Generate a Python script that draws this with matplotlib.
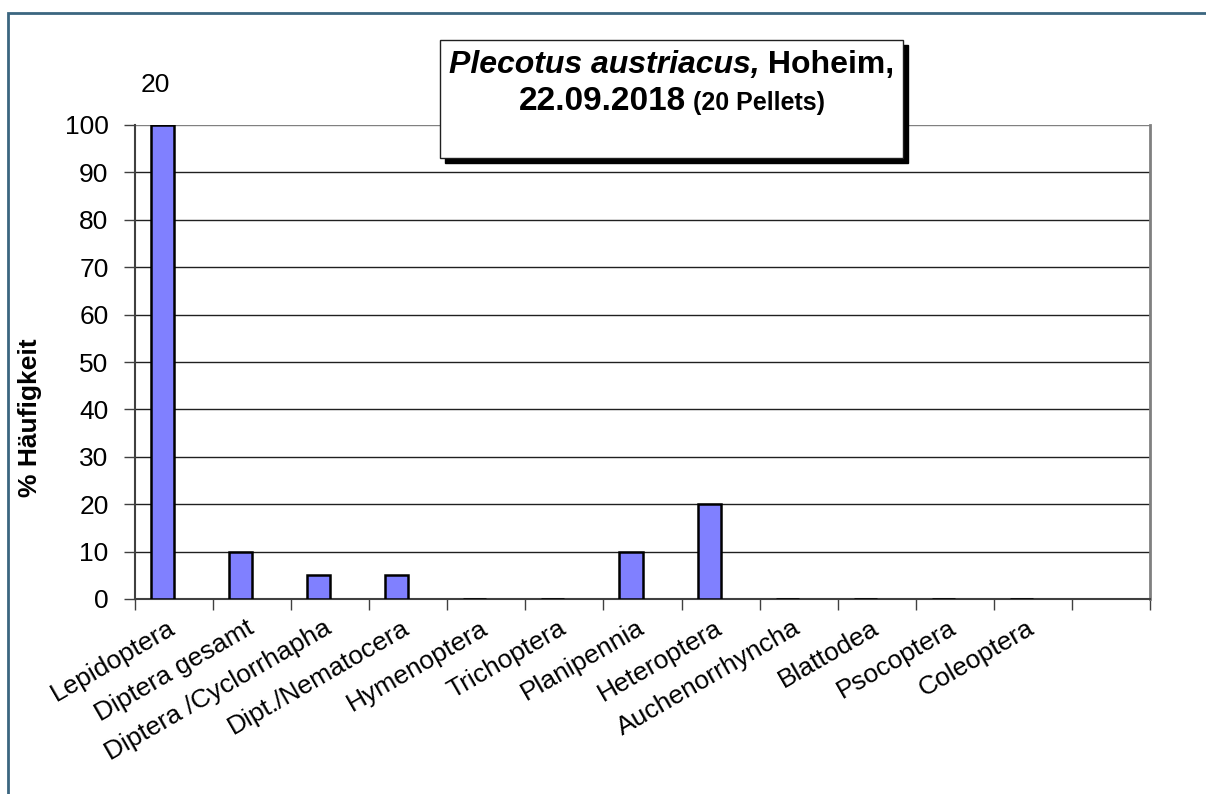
import numpy as np
import matplotlib.pyplot as plt
from matplotlib.patches import Rectangle

plt.rcParams['font.family'] = ['Liberation Sans', 'DejaVu Sans']

categories = ['Lepidoptera', 'Diptera gesamt', 'Diptera /Cyclorrhapha', 'Dipt./Nematocera',
              'Hymenoptera', 'Trichoptera', 'Planipennia', 'Heteroptera',
              'Auchenorrhyncha', 'Blattodea', 'Psocoptera', 'Coleoptera']
values = [100, 10, 5, 5, 0, 0, 10, 20, 0, 0, 0, 0]
n_slots = 13
yticks = list(range(0, 101, 10))

W, H = 1206, 794
def fx(x):
    return x / W
def fy(y):
    return 1 - y / H

fig = plt.figure(figsize=(12.06, 7.94), dpi=100)
ax = fig.add_axes([fx(135), fy(599), (1150 - 135) / W, (599 - 125) / H])

# grid lines
for v in yticks[1:]:
    ax.axhline(v, color='#808080' if v == 100 else '#202020', lw=1.0, zorder=0)

x = np.arange(len(values))
ax.bar(x + 0.205, values, width=0.295, align='edge', color='#8080ff',
       edgecolor='black', linewidth=1.8, zorder=3)

ax.set_xlim(0, n_slots)
ax.set_ylim(0, 100)
ax.set_yticks(yticks)
ax.set_yticklabels([str(v) for v in yticks], fontsize=19)
ax.set_xticks(range(n_slots + 1))
ax.set_xticklabels([])
ax.tick_params(axis='both', direction='out', length=8, width=1, color='#404040')
ax.tick_params(axis='y', pad=11)

for i, lab in enumerate(categories):
    ax.text(i + 0.42, -0.035, lab, transform=ax.get_xaxis_transform(),
            rotation=30, rotation_mode='anchor', ha='right', va='top', fontsize=19)

ax.spines['top'].set_visible(False)
ax.spines['right'].set_color('#808080')
ax.spines['right'].set_linewidth(2)
ax.spines['left'].set_color('#404040')
ax.spines['bottom'].set_color('#404040')
ax.spines['left'].set_linewidth(1.5)
ax.spines['bottom'].set_linewidth(1.5)

fig.text(fx(30), fy(418), '% Häufigkeit', rotation=90, ha='center', va='center',
         fontsize=19, fontweight='bold')

fig.text(fx(155), fy(85), '20', ha='center', va='center', fontsize=19)

# outer frame
fig.patches.append(Rectangle((fx(8), fy(820)), fx(1230) - fx(8), fy(13) - fy(820),
                             transform=fig.transFigure, fill=False,
                             edgecolor='#3b6680', lw=2, clip_on=False))

# title box with shadow
bx0, bx1, by0, by1 = 440, 903, 40, 158
sh = 5
fig.patches.append(Rectangle((fx(bx0 + sh), fy(by1 + sh)), fx(bx1) - fx(bx0), fy(by0) - fy(by1),
                             transform=fig.transFigure, facecolor='black', edgecolor='black',
                             lw=1, zorder=5))
fig.patches.append(Rectangle((fx(bx0), fy(by1)), fx(bx1) - fx(bx0), fy(by0) - fy(by1),
                             transform=fig.transFigure, facecolor='white', edgecolor='#202020',
                             lw=1, zorder=6))

cx = (bx0 + bx1) / 2
parts1 = [('Plecotus austriacus,', 'italic', 23), (' Hoheim,', 'normal', 23)]
parts2 = [('22.09.2018', 'normal', 24), (' (20 Pellets)', 'normal', 18)]

fig.canvas.draw()
renderer = fig.canvas.get_renderer()
for parts, ybase in [(parts1, 73), (parts2, 110)]:
    texts = []
    for s, style, size in parts:
        t = fig.text(0, fy(ybase), s, fontsize=size, fontweight='bold', fontstyle=style,
                     ha='left', va='baseline', zorder=7)
        texts.append(t)
    widths = [t.get_window_extent(renderer).width for t in texts]
    xs = cx - sum(widths) / 2
    for t, w in zip(texts, widths):
        t.set_x(fx(xs))
        xs += w

fig.savefig('out.png', dpi=100)
